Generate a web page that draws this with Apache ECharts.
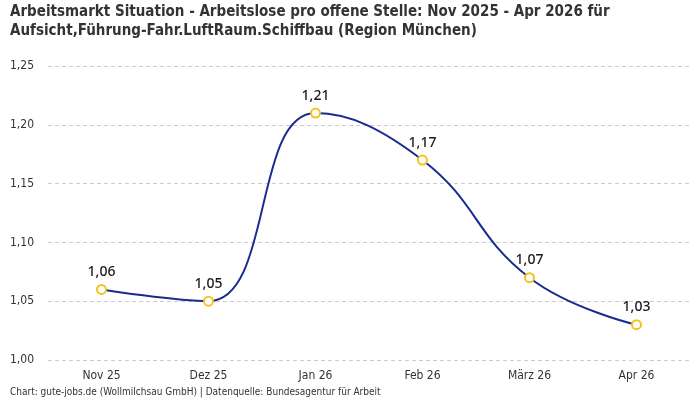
<!DOCTYPE html>
<html>
<head>
<meta charset="utf-8">
<script src="https://cdn.jsdelivr.net/npm/echarts@6/dist/echarts.min.js"></script>
<style>
  html, body { margin: 0; padding: 0; background: #fff; }
  #chart { width: 700px; height: 400px; }
</style>
</head>
<body>
<div id="chart"></div>
<script>
// Arbeitslose pro offene Stelle, Region München
const months = ["Nov 25", "Dez 25", "Jan 26", "Feb 26", "März 26", "Apr 26"];
const ratio = [1.06, 1.05, 1.21, 1.17, 1.07, 1.03];

const titleText = "Arbeitsmarkt Situation - Arbeitslose pro offene Stelle: Nov 2025 - Apr 2026 für\nAufsicht,Führung-Fahr.LuftRaum.Schiffbau (Region München)";
const sourceText = "Chart: gute-jobs.de (Wollmilchsau GmbH) | Datenquelle: Bundesagentur für Arbeit";

const narrow = "'Liberation Sans Narrow', 'DejaVu Sans Condensed', 'Roboto', sans-serif";
const fmt = (v) => v.toFixed(2).replace(".", ",");

let chart = echarts.init(document.getElementById("chart"));
chart.setOption({
  animation: false,
  title: [
    {
      text: titleText,
      left: 10,
      top: 3,
      padding: 0,
      textStyle: { fontFamily: narrow, fontSize: 15, fontWeight: "bold", color: "#333", lineHeight: 19 }
    },
    {
      text: sourceText,
      left: 10,
      top: 387,
      padding: 0,
      textStyle: { fontFamily: narrow, fontSize: 10, fontWeight: "normal", color: "#333" }
    }
  ],
  grid: { left: 48, right: 10, top: 66, bottom: 40 },
  xAxis: {
    type: "category",
    data: months,
    boundaryGap: true,
    axisLine: { show: false },
    axisTick: { show: false },
    axisLabel: { fontFamily: narrow, fontSize: 12, color: "#333", margin: 10 }
  },
  yAxis: {
    type: "value",
    min: 1.0,
    max: 1.25,
    interval: 0.05,
    axisLabel: { fontFamily: narrow, fontSize: 12, color: "#333", margin: 14, formatter: fmt },
    splitLine: { lineStyle: { color: "#ccc", type: [4, 3] } }
  },
  series: [
    {
      type: "line",
      data: ratio,
      smooth: 0.45,
      symbol: "circle",
      symbolSize: 9,
      lineStyle: { color: "#1a2b8f", width: 2 },
      itemStyle: { color: "#fff", borderColor: "#f5c21b", borderWidth: 2 },
      label: {
        show: true,
        position: "top",
        distance: 5,
        formatter: (p) => fmt(p.value),
        fontFamily: "'Noto Sans', sans-serif",
        fontSize: 14,
        fontWeight: 500,
        color: "#1a1a1a"
      }
    }
  ]
});
</script>
</body>
</html>
